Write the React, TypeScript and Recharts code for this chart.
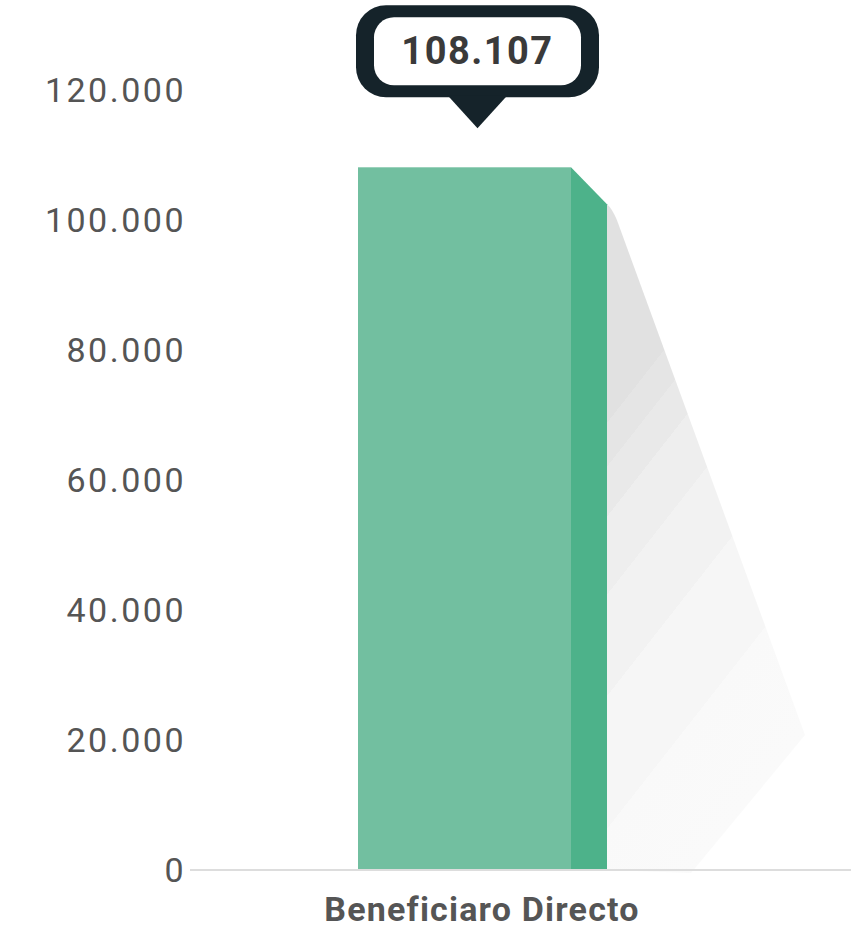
import React from 'react';
import { BarChart, Bar, XAxis, YAxis, LabelList } from 'recharts';

const categories = ['Beneficiaro Directo'];
const values = [108107];
const yTicks = [0, 20000, 40000, 60000, 80000, 100000, 120000];

const data = categories.map((c, i) => ({ name: c, value: values[i] }));

const fmt = (v: number) => String(Math.round(v)).replace(/\B(?=(\d{3})+(?!\d))/g, '.');

const SIDE = 36;
const DROP = 37;

const BarShape = (props: any) => {
  const { x, y, width, height } = props;
  const frontW = width - SIDE;
  const xf = x + frontW;
  const xr = x + width;
  const yb = y + height;
  const gx1 = xr;
  const gy1 = y + DROP;
  const gx2 = gx1 + 379;
  const gy2 = gy1 + 297;
  const shadow = `M ${xr} ${y + DROP} Q ${xr + 5} ${y + DROP + 4} ${xr + 10} ${y + DROP + 16} L ${xr + 198} ${yb - 135} L ${xr + 84} ${yb + 3} L ${xr} ${yb} Z`;
  return (
    <g>
      <defs>
        <linearGradient id="shadowGrad" gradientUnits="userSpaceOnUse" x1={gx1} y1={gy1} x2={gx2} y2={gy2}>
          <stop offset="0" stopColor="#e1e1e1" />
          <stop offset="0.28" stopColor="#e1e1e1" />
          <stop offset="0.28" stopColor="#e5e5e5" />
          <stop offset="0.336" stopColor="#e5e5e5" />
          <stop offset="0.336" stopColor="#e9e9e9" />
          <stop offset="0.40" stopColor="#e9e9e9" />
          <stop offset="0.40" stopColor="#eeeeee" />
          <stop offset="0.50" stopColor="#eeeeee" />
          <stop offset="0.50" stopColor="#f2f2f2" />
          <stop offset="0.63" stopColor="#f2f2f2" />
          <stop offset="0.63" stopColor="#f6f6f6" />
          <stop offset="0.80" stopColor="#f6f6f6" />
          <stop offset="0.80" stopColor="#f9f9f9" />
          <stop offset="1" stopColor="#fafafa" />
        </linearGradient>
      </defs>
      <path d={shadow} fill="url(#shadowGrad)" />
      <rect x={x} y={y} width={frontW} height={height} fill="#72bfa0" />
      <path d={`M ${xf} ${y} L ${xr} ${y + DROP} L ${xr} ${yb} L ${xf} ${yb} Z`} fill="#4db28a" />
    </g>
  );
};

const ValueBadge = (props: any) => {
  const { x, y, width, value } = props;
  const cx = x + width / 2 - 5;
  const bw = 243;
  const bh = 92;
  const top = y - 162;
  return (
    <g>
      <rect x={cx - bw / 2} y={top} width={bw} height={bh} rx={30} ry={30} fill="#15232a" />
      <path d={`M ${cx - 30} ${top + bh - 2} L ${cx + 30} ${top + bh - 2} L ${cx} ${y - 39} Z`} fill="#15232a" />
      <rect x={cx - bw / 2 + 18} y={top + 12} width={bw - 36} height={bh - 24} rx={20} ry={20} fill="#ffffff" />
      <text
        x={cx}
        y={top + bh / 2}
        textAnchor="middle"
        dominantBaseline="central"
        fontFamily="Roboto"
        fontWeight={700}
        fontSize={38}
        letterSpacing={1.5}
        fill="#3a3a3a"
      >
        {fmt(Number(value))}
      </text>
    </g>
  );
};

export default function App() {
  return (
    <div style={{ position: 'absolute', left: 0, top: 0, width: 851, height: 929, background: '#fff' }}>
      <BarChart
        width={851}
        height={929}
        data={data}
        margin={{ top: 90, right: 0, bottom: 0, left: 0 }}
        style={{ fontFamily: 'Roboto' }}
      >
        <XAxis
          dataKey="name"
          height={59}
          axisLine={{ stroke: '#dddddd', strokeWidth: 2 }}
          tickLine={false}
          tickSize={0}
          tickMargin={27}
          padding={{ left: 0, right: 77 }}
          tick={{ fontSize: 34, fontWeight: 700, fill: '#555555', fontFamily: 'Roboto', letterSpacing: 1.2 }}
        />
        <YAxis
          width={190}
          domain={[0, 120000]}
          ticks={yTicks}
          axisLine={false}
          tickLine={false}
          tickSize={0}
          tickMargin={4}
          tickFormatter={fmt}
          tick={{ fontSize: 34, fill: '#555555', fontFamily: 'Roboto', letterSpacing: 2.5 }}
        />
        <Bar dataKey="value" barSize={249} shape={BarShape} isAnimationActive={false}>
          <LabelList dataKey="value" content={ValueBadge} />
        </Bar>
      </BarChart>
    </div>
  );
}
